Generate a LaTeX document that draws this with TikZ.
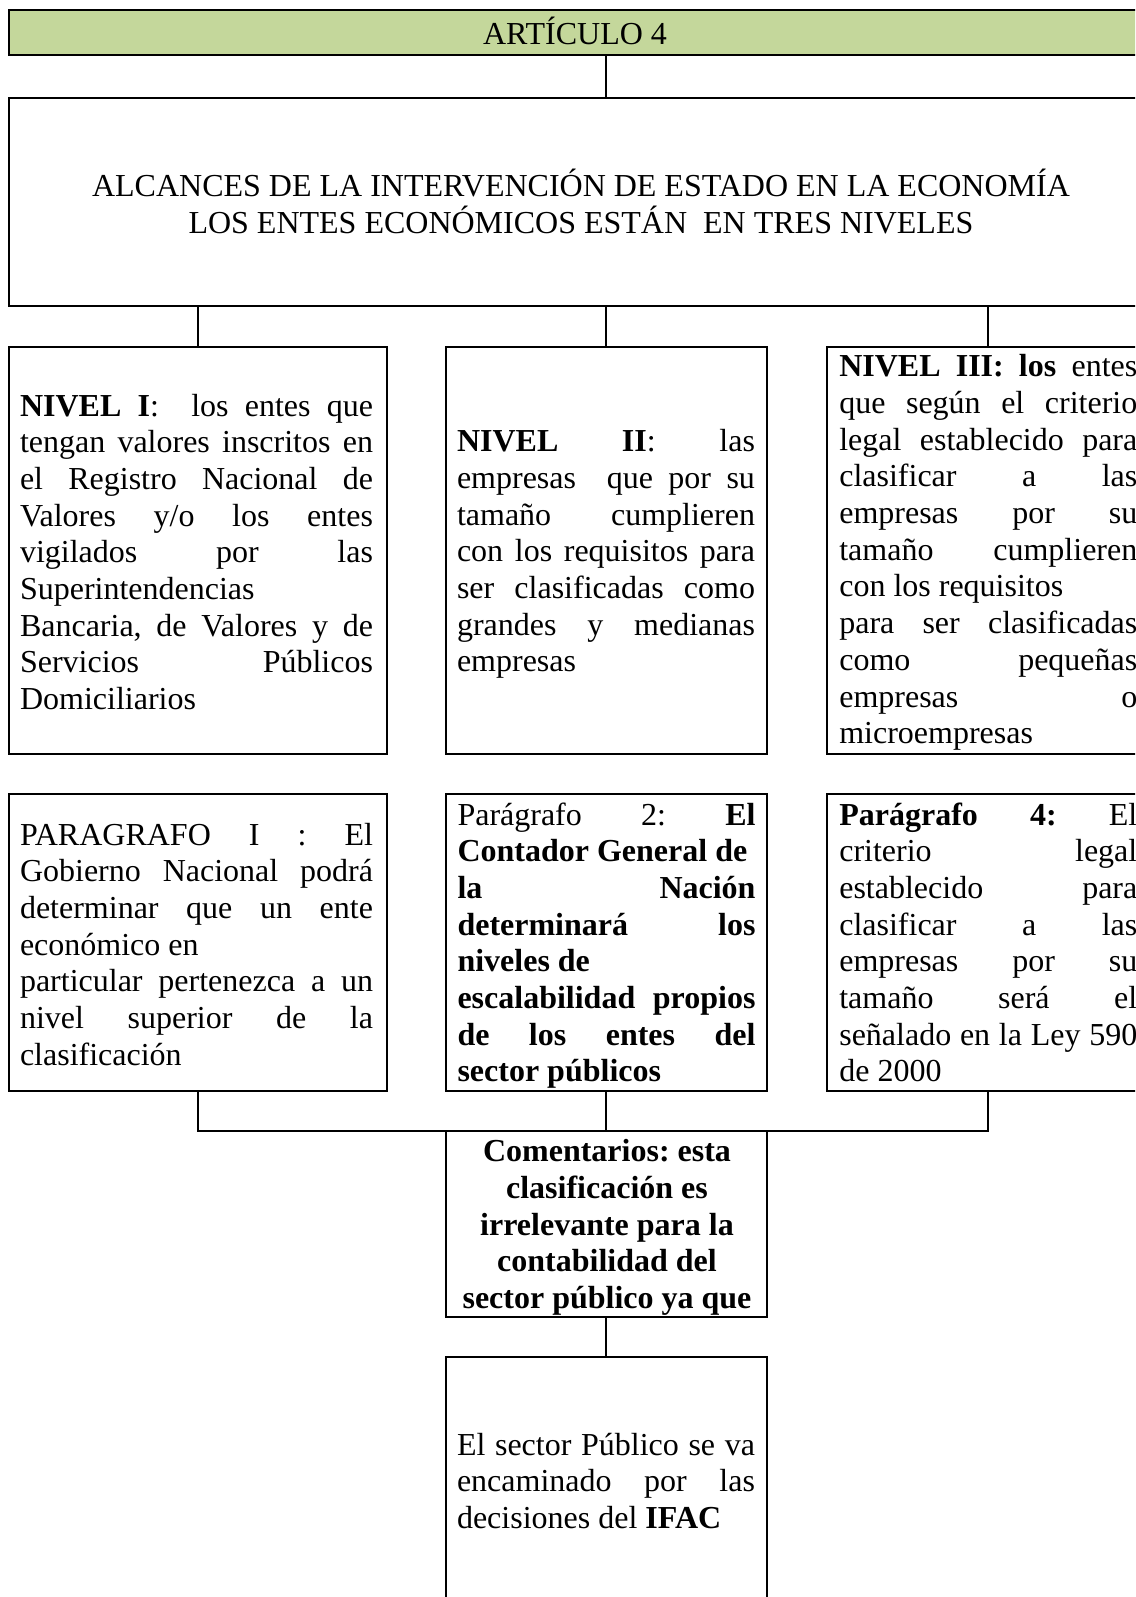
\documentclass[tikz,border=0pt]{standalone}
\usepackage{fontspec}
\setmainfont{Liberation Serif}
\definecolor{artgreen}{HTML}{C4D79B}
\hbadness=10000
\hfuzz=60pt
\newcommand\lineJ[1]{\hbox to\hsize{#1}}
\newcommand\lineR[1]{\hbox to\hsize{#1\hfil}}
\newcommand\lineC[1]{\hbox to\hsize{\hfil#1\hfil}}
\newcommand\paratext[2]{\vtop{\hsize=#1\relax\lineskiplimit=-100pt\relax #2}}
\tikzset{
  box/.style={draw, line width=2pt, rectangle, inner sep=0pt, outer sep=0pt, anchor=north west},
  conn/.style={line width=2pt},
  txt/.style={inner sep=0pt, outer sep=0pt, font=\fontsize{32}{36.7}\selectfont\frenchspacing},
}
\begin{document}
\begin{tikzpicture}[x=1pt, y=-1pt]
\useasboundingbox (0,0) rectangle (1135,1597);
\clip (0,0) rectangle (1135,1597);
% boxes
\node[box, fill=artgreen, line width=2.5pt, minimum width=1160pt, minimum height=45pt] (art) at (9,10) {};
\node[box, minimum width=1160pt, minimum height=208pt] (alc) at (9,98) {};
\node[box, minimum width=377.7pt, minimum height=407.3pt] (n1) at (9,346.7) {};
\node[box, minimum width=320.7pt, minimum height=407.3pt] (n2) at (446,346.7) {};
\node[box, minimum width=320.7pt, minimum height=407.3pt] (n3) at (827.3,346.7) {};
\node[box, minimum width=377.7pt, minimum height=296.7pt] (p1) at (9,794) {};
\node[box, minimum width=320.7pt, minimum height=296.7pt] (p2) at (446,794) {};
\node[box, minimum width=320.7pt, minimum height=296.7pt] (p4) at (827.3,794) {};
\node[box, minimum width=320.7pt, minimum height=186pt] (com) at (446,1130.7) {};
\node[box, minimum width=320.7pt, minimum height=254pt] (sp) at (446,1356.7) {};
% connectors
\draw[conn] (art.south -| n2.north) -- (alc.north -| n2.north);
\draw[conn] (alc.south -| n1.north) -- (n1.north);
\draw[conn] (alc.south -| n2.north) -- (n2.north);
\draw[conn] (alc.south -| n3.north) -- (n3.north);
\draw[conn] (p1.south) -- (p1.south |- com.north) -- (p4.south |- com.north) -- (p4.south);
\draw[conn] (p2.south) -- (com.north);
\draw[conn] (com.south) -- (sp.north);
% texts
\node[txt, anchor=base] (tart) at (575,45) {ARTÍCULO 4};
\node[txt, anchor=base] (talc) at (581,196.7) {\paratext{1120pt}{%
\lineC{ALCANCES DE LA INTERVENCIÓN DE ESTADO EN LA ECONOMÍA}
\lineC{LOS ENTES ECONÓMICOS ESTÁN\ \ EN TRES NIVELES}}};
\node[txt, anchor=base west] (tn1) at (20,416) {\paratext{353pt}{%
\lineJ{\textbf{NIVEL I}:\ \ los entes que}
\lineJ{tengan valores inscritos en}
\lineJ{el Registro Nacional de}
\lineJ{Valores y/o los entes}
\lineJ{vigilados por las}
\lineR{Superintendencias}
\lineJ{Bancaria, de Valores y de}
\lineJ{Servicios Públicos}
\lineR{Domiciliarios}}};
\node[txt, anchor=base west] (tn2) at (457,451.7) {\paratext{298pt}{%
\lineJ{\textbf{NIVEL II}: las}
\lineJ{empresas\ \ que por su}
\lineJ{tamaño cumplieren}
\lineJ{con los requisitos para}
\lineJ{ser clasificadas como}
\lineJ{grandes y medianas}
\lineR{empresas}}};
\node[txt, anchor=base west] (tn3) at (839.3,376.7) {\paratext{298pt}{%
\lineJ{\textbf{NIVEL III: los} entes}
\lineJ{que según el criterio}
\lineJ{legal establecido para}
\lineJ{clasificar a las}
\lineJ{empresas por su}
\lineJ{tamaño cumplieren}
\lineR{con los requisitos}
\lineJ{para ser clasificadas}
\lineJ{como pequeñas}
\lineJ{empresas o}
\lineR{microempresas}}};
\node[txt, anchor=base west] (tp1) at (20,845) {\paratext{353pt}{%
\lineJ{PARAGRAFO I : El}
\lineJ{Gobierno Nacional podrá}
\lineJ{determinar que un ente}
\lineR{económico en}
\lineJ{particular pertenezca a un}
\lineJ{nivel superior de la}
\lineR{clasificación}}};
\node[txt, anchor=base west] (tp2) at (457.5,825) {\paratext{298pt}{%
\lineJ{Parágrafo 2: \textbf{El}}
\lineR{\textbf{Contador General de}}
\lineJ{\textbf{la Nación}}
\lineJ{\textbf{determinará los}}
\lineR{\textbf{niveles de}}
\lineJ{\textbf{escalabilidad propios}}
\lineJ{\textbf{de los entes del}}
\lineR{\textbf{sector públicos}}}};
\node[txt, anchor=base west] (tp4) at (839.3,825) {\paratext{298pt}{%
\lineJ{\textbf{Parágrafo 4:} El}
\lineJ{criterio legal}
\lineJ{establecido para}
\lineJ{clasificar a las}
\lineJ{empresas por su}
\lineJ{tamaño será el}
\lineJ{señalado en la Ley 590}
\lineR{de 2000}}};
\node[txt, anchor=base] (tcom) at (607,1161.7) {\paratext{310pt}{\bfseries
\lineC{Comentarios: esta}
\lineC{clasificación es}
\lineC{irrelevante para la}
\lineC{contabilidad del}
\lineC{sector público ya que}}};
\node[txt, anchor=base west] (tsp) at (457,1455) {\paratext{298pt}{%
\lineJ{El sector Público se va}
\lineJ{encaminado por las}
\lineR{decisiones del \textbf{IFAC}}}};
\end{tikzpicture}
\end{document}
